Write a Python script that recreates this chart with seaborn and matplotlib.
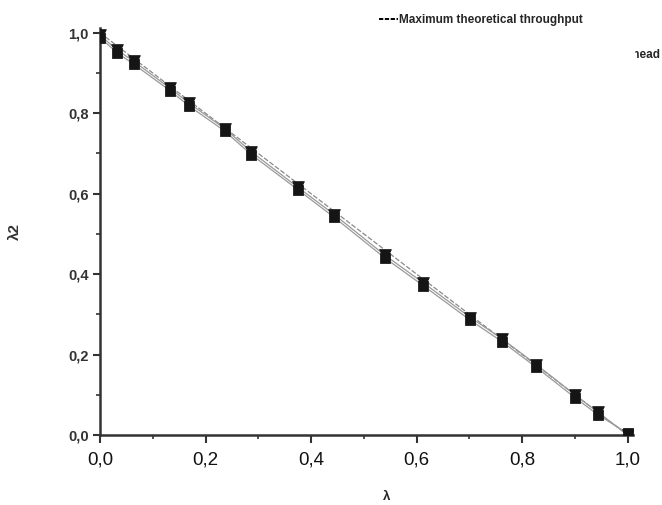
import numpy as np
import pandas as pd
import matplotlib
matplotlib.use("Agg")
import matplotlib.pyplot as plt
from matplotlib.transforms import Bbox, TransformedBbox
from matplotlib.ticker import MultipleLocator, FuncFormatter
import seaborn as sns

# Measured operating points (lambda, lambda2)
lam = [0.0, 0.033, 0.064, 0.133, 0.169, 0.236, 0.287, 0.375, 0.444,
       0.540, 0.613, 0.702, 0.762, 0.827, 0.900, 0.944, 1.0]
lam2_a = [0.988, 0.950, 0.922, 0.856, 0.818, 0.756, 0.697, 0.610, 0.541,
          0.440, 0.371, 0.285, 0.232, 0.168, 0.093, 0.050, 0.004]
lam2_b = [0.994, 0.957, 0.929, 0.862, 0.825, 0.762, 0.704, 0.616, 0.548,
          0.447, 0.378, 0.292, 0.239, 0.175, 0.100, 0.056, 0.0]

# Theoretical bound lambda + lambda2 = 1
theo_x = [0.0, 1.0]
theo_y = [1.0, 0.0]

tick_vals = [0.0, 0.2, 0.4, 0.6, 0.8, 1.0]

sns.set_style("ticks")
plt.rcParams["font.family"] = ["Liberation Sans", "DejaVu Sans"]

df = pd.DataFrame({
    "lam": lam * 2,
    "lam2": lam2_a + lam2_b,
    "series": ["A"] * len(lam) + ["B"] * len(lam),
})
theo = pd.DataFrame({"lam": theo_x, "lam2": theo_y})

fig = plt.figure(figsize=(6.62, 5.05), dpi=100)
ax = fig.add_axes([100 / 662, 1 - 435 / 505, 533 / 662, 407 / 505])

sns.lineplot(data=theo, x="lam", y="lam2", ax=ax, color="#8a8a8a",
             linewidth=0.9, linestyle=(0, (4, 1.5)), label="Maximum theoretical throughput")
sns.lineplot(data=df, x="lam", y="lam2", hue="series", ax=ax,
             palette=["#9a9a9a", "#9a9a9a"], linewidth=0.9, legend=False,
             estimator=None, sort=False)
sns.scatterplot(data=df[df.series == "A"], x="lam", y="lam2", ax=ax,
                marker="s", s=50, color="#151515", edgecolor="#151515",
                legend=False, zorder=5)
sns.scatterplot(data=df[df.series == "B"], x="lam", y="lam2", ax=ax,
                marker="v", s=70, color="#151515", edgecolor="#151515",
                legend=False, zorder=6)

ax.set_xlim(0, 1.01)
ax.set_ylim(0, 1.012)
ax.set_xticks(tick_vals)
ax.set_yticks(tick_vals)
fmt = FuncFormatter(lambda v, p: f"{v:.1f}".replace(".", ","))
ax.xaxis.set_major_formatter(fmt)
ax.yaxis.set_major_formatter(fmt)
ax.xaxis.set_minor_locator(MultipleLocator(0.1))
ax.yaxis.set_minor_locator(MultipleLocator(0.1))

for side in ("top", "right"):
    ax.spines[side].set_visible(False)
for side in ("left", "bottom"):
    ax.spines[side].set_linewidth(1.8)
    ax.spines[side].set_color("#333333")

ax.tick_params(axis="x", which="major", length=6, width=1.5, color="#333333",
               labelsize=13.5, labelcolor="#111111", pad=6)
ax.tick_params(axis="y", which="major", length=5, width=1.5, color="#333333",
               labelsize=10.5, labelcolor="#333333", pad=3)
for lbl in ax.get_yticklabels():
    lbl.set_fontweight("bold")
ax.tick_params(which="minor", length=3, width=1.2, color="#333333")

ax.set_xlabel("λ", fontsize=9.5, fontweight="bold")
ax.set_ylabel("λ2", fontsize=11, fontweight="bold", color="#333333")
ax.xaxis.set_label_coords(0.537, -0.138)
ax.yaxis.set_label_coords(-0.146, 0.50)

leg = ax.legend(loc="center left", bbox_to_anchor=(374 / 662, 1 - 20 / 505),
                bbox_transform=fig.transFigure, frameon=False,
                handlelength=1.6, handletextpad=0.1, borderaxespad=0,
                prop={"size": 8.5, "weight": "bold"})
for h in leg.get_lines():
    h.set_color("black")
    h.set_linewidth(1.4)
    h.set_linestyle((0, (2.2, 0.8)))

# Second legend entry, mostly hidden behind the page margin
t = fig.text(660 / 662, 1 - 55 / 505, "Throughput with overhead", ha="right",
             va="center", fontsize=8.5, fontweight="bold")
t.set_clip_box(TransformedBbox(Bbox([[635 / 662, 0], [1, 1]]), fig.transFigure))
t.set_clip_on(True)

fig.savefig("out.png", dpi=100)
